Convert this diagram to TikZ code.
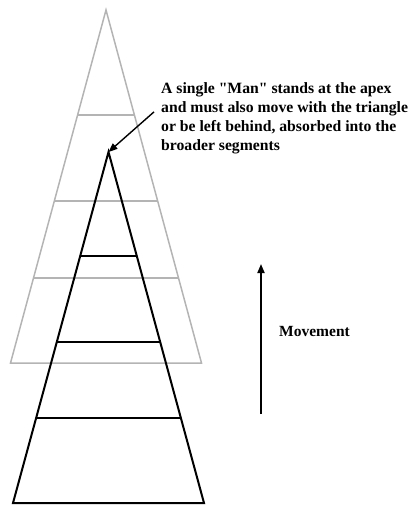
\documentclass[tikz,border=0pt]{standalone}
\usepackage{fontspec}
\setmainfont{Liberation Serif}
\usepackage{xcolor}
\definecolor{ghost}{HTML}{B4B4B4}
\definecolor{solid}{HTML}{000000}
\usetikzlibrary{arrows.meta, positioning, calc}

\begin{document}
\begin{tikzpicture}[x=1pt, y=-1pt, >={Triangle[length=9pt, width=7pt]}]
  \useasboundingbox (0,0) rectangle (410,506);

  % triangle before the move (grey)
  \coordinate (oldtop) at (106,10);
  \coordinate (oldleft) at (10.5,363);
  \coordinate (oldright) at (201.5,363);
  \draw[ghost, line width=1.5pt, line join=miter]
    (oldleft) -- (oldtop) -- (oldright) -- cycle;
  \foreach \t in {0.297, 0.541, 0.759}
    \draw[ghost, line width=1.5pt]
      ($(oldtop)!\t!(oldleft)$) -- ($(oldtop)!\t!(oldright)$);

  % triangle after the move (black)
  \coordinate (apex) at (108.5,152);
  \coordinate (baseleft) at (13,503);
  \coordinate (baseright) at (204,503);
  \draw[solid, line width=2pt, line join=miter]
    (baseleft) -- (apex) -- (baseright) -- cycle;
  \foreach \t in {0.297, 0.541, 0.759}
    \draw[solid, line width=2pt]
      ($(apex)!\t!(baseleft)$) -- ($(apex)!\t!(baseright)$);

  \node[anchor=north west, align=left, inner sep=0pt,
        font=\bfseries\fontsize{15.7}{19}\selectfont] (note) at (161,82)
    {A single \textquotedbl Man\textquotedbl{} stands at the apex\\
     and must also move with the triangle\\
     or be left behind, absorbed into the\\
     broader segments};

  \draw[->, line width=1.4pt] ([shift={(-7,-6)}]note.west) -- (apex);

  % direction of travel
  \coordinate (movelow) at (261,414);
  \coordinate (movehigh) at (261,264);
  \draw[->, line width=1.8pt] (movelow) -- (movehigh);
  \node[anchor=west, inner sep=0pt, font=\bfseries\fontsize{15.5}{17.5}\selectfont]
    (movelabel) at (279,331) {Movement};

\end{tikzpicture}
\end{document}
